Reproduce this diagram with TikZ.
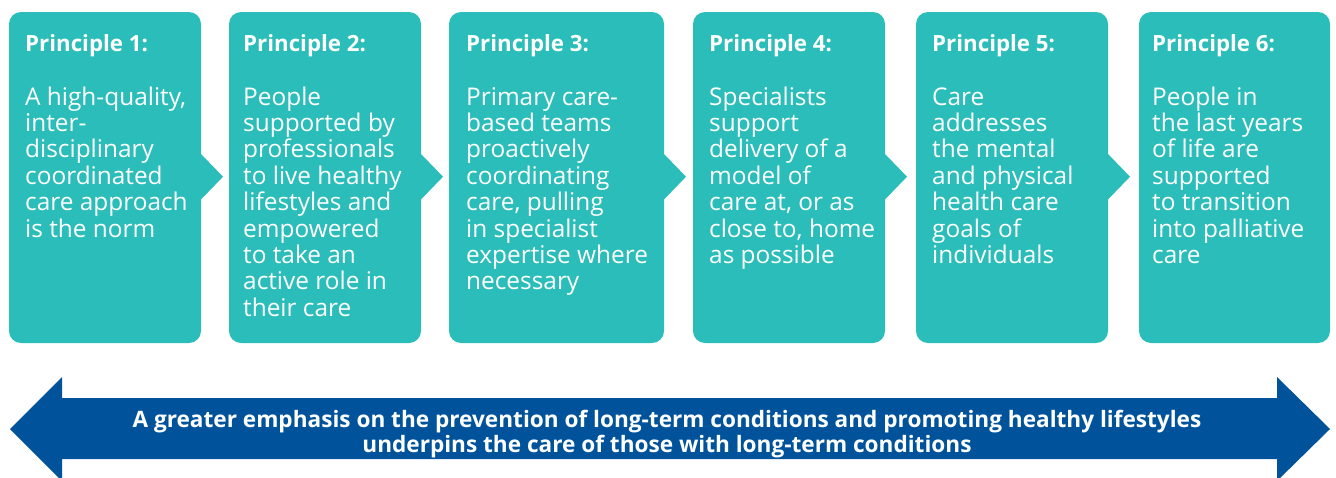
\documentclass[tikz,border=0pt]{standalone}
\usepackage{fontspec}
\setmainfont{Open Sans}
\definecolor{teal1}{RGB}{42,189,185}
\definecolor{blue1}{RGB}{0,83,155}
\tikzset{
  pbox/.style={fill=teal1, rounded corners=12pt, draw=none, inner sep=0pt},
  ptitle/.style={anchor=base west, inner sep=0pt, text=white, font=\fontsize{22.3}{26}\selectfont\bfseries},
  pbody/.style={anchor=base west, inner sep=0pt, text=white, font=\fontsize{24.4}{26.4}\selectfont},
  btext/.style={anchor=base, inner sep=0pt, text=white, font=\fontsize{22.6}{25.5}\selectfont\bfseries}
}
\newcommand{\pbodytext}[2]{\parbox[t]{#1}{\raggedright #2}}
\begin{document}
\begin{tikzpicture}[x=1pt,y=-1pt]
\useasboundingbox (0,0) rectangle (1336,477);
\clip (0,0) rectangle (1336,477);
% boxes
\foreach \n/\l/\r in {1/9/201, 2/229/421, 3/449/664, 4/693/885, 5/916/1108, 6/1139/1330}{
  \fill[pbox] (\l,12) rectangle (\r,343);
  \coordinate (b\n) at (\l,12);
}
\foreach \r in {201,421,664,885,1108}{
  \fill[teal1] (\r-2,154) -- (\r,154) -- (\r+22,176.7) -- (\r,199.5) -- (\r-2,199.5) -- cycle;
}
% titles
\node[ptitle] (t1) at (25,51) {Principle 1:};
\node[ptitle] (t2) at (243,51) {Principle 2:};
\node[ptitle] (t3) at (466,51) {Principle 3:};
\node[ptitle] (t4) at (709,51) {Principle 4:};
\node[ptitle] (t5) at (932,51) {Principle 5:};
\node[ptitle] (t6) at (1152,51) {Principle 6:};
% bodies
\node[pbody] (d1) at (25,105) {\pbodytext{190pt}{A high-quality,\\inter-\\disciplinary\\coordinated\\care approach\\is the norm}};
\node[pbody] (d2) at (243,105) {\pbodytext{190pt}{People\\supported by\\professionals\\to live healthy\\lifestyles and\\empowered\\to take an\\active role in\\their care}};
\node[pbody] (d3) at (466,105) {\pbodytext{210pt}{Primary care-\\based teams\\proactively\\coordinating\\care, pulling\\in specialist\\expertise where\\necessary}};
\node[pbody] (d4) at (709,105) {\pbodytext{190pt}{Specialists\\support\\delivery of a\\model of\\care at, or as\\close to, home\\as possible}};
\node[pbody] (d5) at (932,105) {\pbodytext{190pt}{Care\\addresses\\the mental\\and physical\\health care\\goals of\\individuals}};
\node[pbody] (d6) at (1152,105) {\pbodytext{190pt}{People in\\the last years\\of life are\\supported\\to transition\\into palliative\\care}};
% double arrow
\fill[blue1] (10,429) -- (62,377) -- (62,398) -- (1277,398) -- (1277,377) -- (1330,429)
  -- (1277,481) -- (1277,459) -- (62,459) -- (62,481) -- cycle;
\node[btext] (arrowtext) at (667,427) {\parbox[t]{1250pt}{\centering A greater emphasis on the prevention of long-term conditions and promoting healthy lifestyles\\underpins the care of those with long-term conditions}};
\end{tikzpicture}
\end{document}
